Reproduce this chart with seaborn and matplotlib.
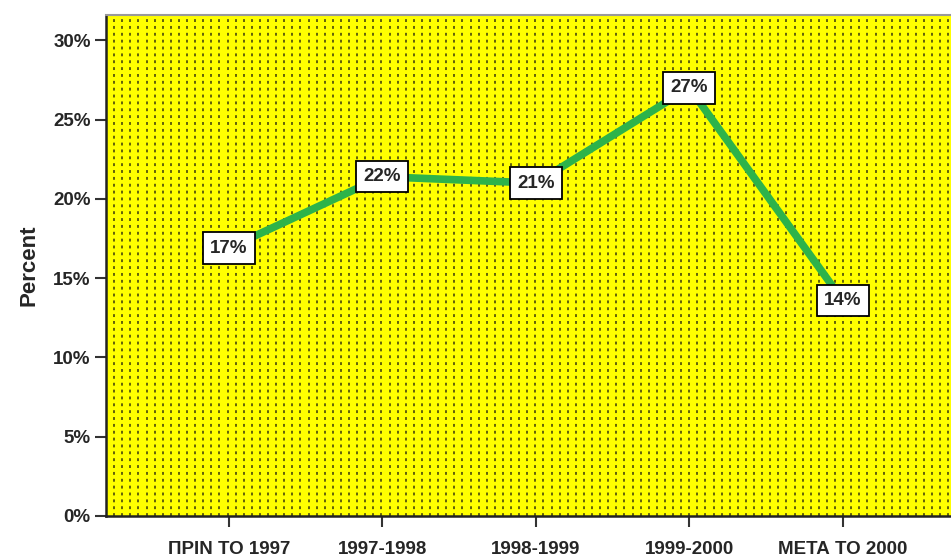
import numpy as np
import pandas as pd
import matplotlib
matplotlib.use("Agg")
import matplotlib.pyplot as plt
import seaborn as sns

periods = ["ΠΡΙΝ ΤΟ 1997", "1997-1998", "1998-1999", "1999-2000", "ΜΕΤΑ ΤΟ 2000"]
percent = [16.9, 21.4, 21.0, 27.0, 13.6]
labels = ["17%", "22%", "21%", "27%", "14%"]
y_ticks = [0, 5, 10, 15, 20, 25, 30]

sns.set_style("white")
plt.rcParams["font.family"] = ["Liberation Sans", "DejaVu Sans"]

df = pd.DataFrame({"period": periods, "percent": percent})

fig = plt.figure(figsize=(9.51, 5.6), dpi=100)
ax = fig.add_axes([106 / 951, 44 / 560, 845 / 951, 501 / 560])
ax.set_facecolor("#ffff00")

# dotted background pattern
for xv in np.arange(-0.8 + 0.053, 4.75, 8.1 / 153.5):
    ax.axvline(xv, color="#55550a", lw=1.3, ls=(0, (1.6, 2.2)), zorder=0.5)

x = np.arange(len(periods))
sns.lineplot(data=df, x=x, y="percent", color="#2db34a", linewidth=5.5,
             sort=False, ax=ax, zorder=2)

for xi, yi, lab in zip(x, percent, labels):
    ax.text(xi, yi, lab, ha="center", va="center", fontsize=13.5,
            fontweight="bold", zorder=3,
            bbox=dict(boxstyle="square,pad=0.38", fc="white", ec="black", lw=1.3))

ax.set_xlim(-0.8, 4.705)
ax.set_ylim(0, 31.6)
ax.set_xticks(x)
ax.set_xticklabels(periods, fontsize=13.5, fontweight="bold")
ax.set_yticks(y_ticks)
ax.set_yticklabels([f"{t}%" for t in y_ticks], fontsize=13.5, fontweight="bold")
ax.tick_params(axis="both", direction="out", length=8, width=1.5,
               color="#333333", left=True, bottom=True)
ax.tick_params(axis="x", pad=10)
ax.tick_params(axis="y", pad=3)
ax.set_xlabel("")
ax.set_ylabel("Percent", fontsize=16, fontweight="bold", labelpad=10)

for side in ["left", "bottom"]:
    ax.spines[side].set_color("#222222")
    ax.spines[side].set_linewidth(1.8)
ax.spines["top"].set_color("#999999")
ax.spines["top"].set_linewidth(1.5)
ax.spines["right"].set_visible(False)

fig.savefig("out.png", dpi=100)
